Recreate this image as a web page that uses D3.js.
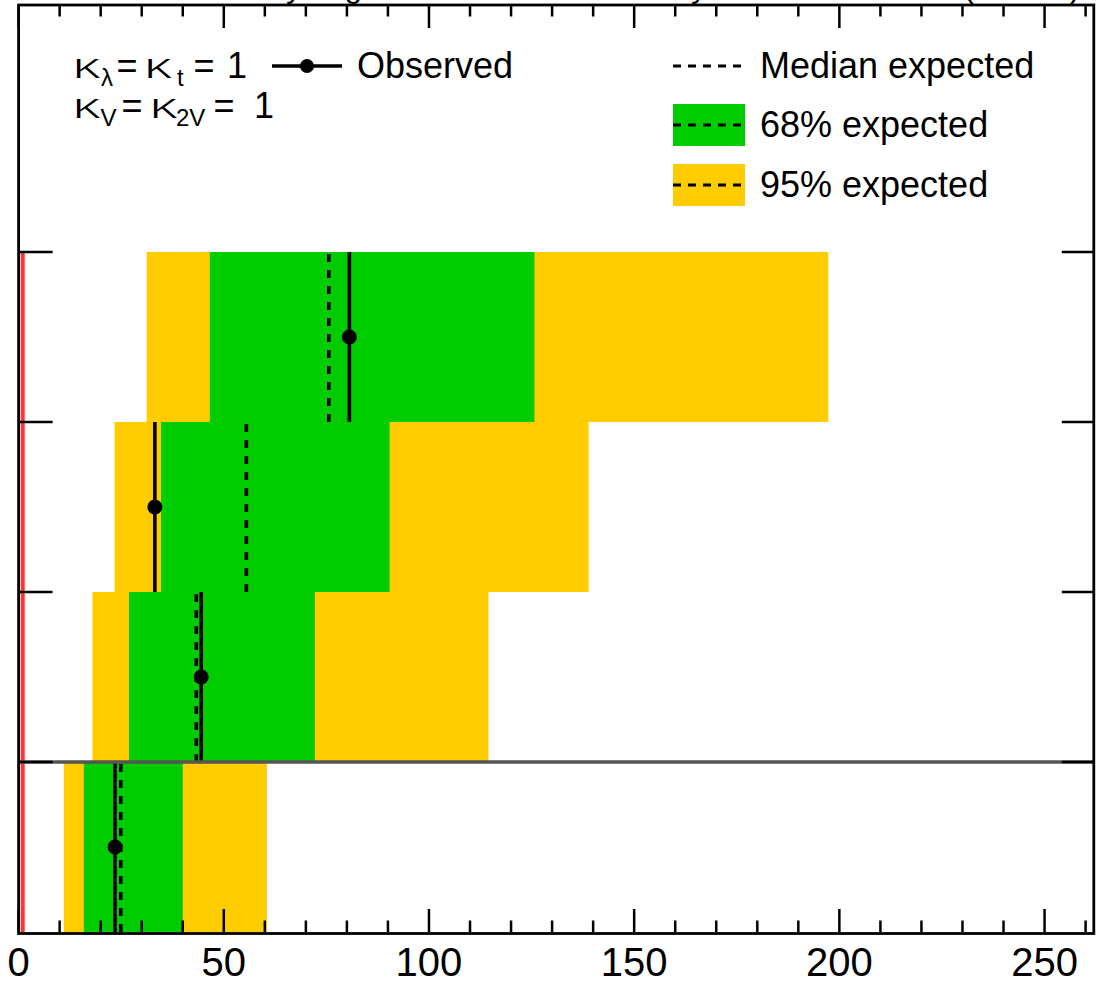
<!DOCTYPE html>
<html><head><meta charset="utf-8">
<script src="https://cdn.jsdelivr.net/npm/d3@7"></script>
<style>
html,body{margin:0;padding:0;background:#fff;overflow:hidden}
svg{display:block;font-family:"Liberation Sans",Arial,Helvetica,sans-serif}
</style></head><body>
<svg id="c" width="1096" height="981"></svg>
<script>
// Rows listed from top to bottom
const rows = ["r1","r2","r3","r4"];
const obs      = [80.6, 33.2, 44.5, 23.5];
const median   = [75.6, 55.5, 43.3, 24.9];
const lo68     = [46.6, 34.7, 26.9, 15.9];
const hi68     = [125.7, 90.4, 72.2, 40.0];
const lo95     = [31.2, 23.4, 18.0, 11.0];
const hi95     = [197.3, 138.9, 114.5, 60.5];
const xMajorTicks = [0, 50, 100, 150, 200, 250];
const xMinorStep = 10;
const smValue = 1;
const titleText = "Sensitivity to gluon fusion and VBF only at the LHC Run 2 (13 TeV)";

(function () {
const svg = d3.select("#c");
const pL = 18.6, pR = 1093.8, pT = 5, pB = 932;
const x = d3.scaleLinear().domain([0, 262]).range([pL, pR]);
const nRows = rows.length;
const y = d3.scaleLinear().domain([0, (pB - pT) / 170]).range([pB, pT]);
const rowTop = i => y(nRows - i);
const rowBot = i => y(nRows - 1 - i);
const rowMid = i => y(nRows - 0.5 - i);

const GREEN = "#00cc00", YELLOW = "#ffcc00";

svg.append("text").attr("x", 1080).attr("y", -3).attr("text-anchor", "end")
  .attr("font-size", 31).text(titleText);

const g = svg.append("g");
rows.forEach((r, i) => {
  g.append("rect").attr("x", x(lo95[i])).attr("width", x(hi95[i]) - x(lo95[i]))
    .attr("y", rowTop(i)).attr("height", rowBot(i) - rowTop(i)).attr("fill", YELLOW);
  g.append("rect").attr("x", x(lo68[i])).attr("width", x(hi68[i]) - x(lo68[i]))
    .attr("y", rowTop(i)).attr("height", rowBot(i) - rowTop(i)).attr("fill", GREEN);
});
rows.forEach((r, i) => {
  g.append("line").attr("x1", x(median[i])).attr("x2", x(median[i]))
    .attr("y1", rowTop(i) + 2).attr("y2", rowBot(i))
    .attr("stroke", "#000").attr("stroke-width", 3.6).attr("stroke-dasharray", "8,8");
});
rows.forEach((r, i) => {
  g.append("line").attr("x1", x(obs[i])).attr("x2", x(obs[i]))
    .attr("y1", rowTop(i)).attr("y2", rowBot(i))
    .attr("stroke", "#000").attr("stroke-width", 3.6);
  g.append("circle").attr("cx", x(obs[i])).attr("cy", rowMid(i)).attr("r", 7.5).attr("fill", "#000");
});

svg.append("line").attr("x1", x(smValue)).attr("x2", x(smValue))
  .attr("y1", rowTop(0)).attr("y2", pB)
  .attr("stroke", "#ff3333").attr("stroke-width", 4);

svg.append("line").attr("x1", pL).attr("x2", pR)
  .attr("y1", rowTop(nRows - 1)).attr("y2", rowTop(nRows - 1))
  .attr("stroke", "#555").attr("stroke-width", 3.5);

const minorVals = d3.range(0, 262, xMinorStep).filter(v => v % 50 !== 0);
const axG = svg.append("g").attr("stroke", "#000").attr("stroke-width", 2.5);
xMajorTicks.forEach(v => {
  axG.append("line").attr("x1", x(v)).attr("x2", x(v)).attr("y1", pB).attr("y2", pB - 23);
  axG.append("line").attr("x1", x(v)).attr("x2", x(v)).attr("y1", pT).attr("y2", pT + 23);
});
minorVals.forEach(v => {
  axG.append("line").attr("x1", x(v)).attr("x2", x(v)).attr("y1", pB).attr("y2", pB - 11.5);
  axG.append("line").attr("x1", x(v)).attr("x2", x(v)).attr("y1", pT).attr("y2", pT + 11.5);
});
d3.range(1, nRows + 1).forEach(k => {
  axG.append("line").attr("x1", pL).attr("x2", pL + 34).attr("y1", y(k)).attr("y2", y(k));
  axG.append("line").attr("x1", pR).attr("x2", pR - 32).attr("y1", y(k)).attr("y2", y(k));
});
svg.append("rect").attr("x", pL).attr("y", pT).attr("width", pR - pL).attr("height", pB + 1.5 - pT)
  .attr("fill", "none").attr("stroke", "#000").attr("stroke-width", 2.8);

svg.append("g").selectAll("text").data(xMajorTicks).join("text")
  .attr("x", d => x(d)).attr("y", 976).attr("text-anchor", "middle")
  .attr("font-size", 40).text(d => d);

// kappa annotations, each piece placed along the line
function piece(xx, yy, str, opts) {
  const t = svg.append("text").attr("x", xx).attr("y", yy).text(str);
  if (opts.kappa) {
    t.attr("font-family", "'Noto Sans','Open Sans',Roboto,sans-serif").attr("font-weight", 300)
     .attr("font-size", 34).attr("textLength", 28).attr("lengthAdjust", "spacingAndGlyphs");
  } else if (opts.sub) {
    t.attr("font-size", 24).attr("y", yy + 8);
  } else {
    t.attr("font-size", 36);
  }
}
const L1 = 78, L2 = 118;
piece(72, L1, "κ", {kappa: true});
piece(101, L1, "λ", {sub: true});
piece(116.5, L1, "=", {});
piece(143.5, L1, "κ", {kappa: true});
piece(177, L1, "t", {sub: true});
piece(193.5, L1, "=", {});
piece(227, L1, "1", {});
piece(72, L2, "κ", {kappa: true});
piece(100.5, L2, "V", {sub: true});
piece(121.5, L2, "=", {});
piece(149, L2, "κ", {kappa: true});
piece(176, L2, "2V", {sub: true});
piece(213.5, L2, "=", {});
piece(254, L2, "1", {});

svg.append("line").attr("x1", 272).attr("x2", 342).attr("y1", 66).attr("y2", 66)
  .attr("stroke", "#000").attr("stroke-width", 3.6);
svg.append("circle").attr("cx", 307).attr("cy", 66).attr("r", 7).attr("fill", "#000");
svg.append("text").attr("x", 357).attr("y", 78).attr("font-size", 36).text("Observed");

const legItems = [
  {label: "Median expected", fill: null, cy: 66},
  {label: "68% expected", fill: GREEN, cy: 125},
  {label: "95% expected", fill: YELLOW, cy: 185}
];
legItems.forEach(d => {
  if (d.fill) svg.append("rect").attr("x", 673).attr("y", d.cy - 21).attr("width", 72).attr("height", 42).attr("fill", d.fill);
  svg.append("line").attr("x1", 673).attr("x2", 745).attr("y1", d.cy).attr("y2", d.cy)
    .attr("stroke", "#000").attr("stroke-width", 3.2).attr("stroke-dasharray", "8,7");
  svg.append("text").attr("x", 760).attr("y", d.cy + 12).attr("font-size", 36).text(d.label);
});
})();
</script>
</body></html>
